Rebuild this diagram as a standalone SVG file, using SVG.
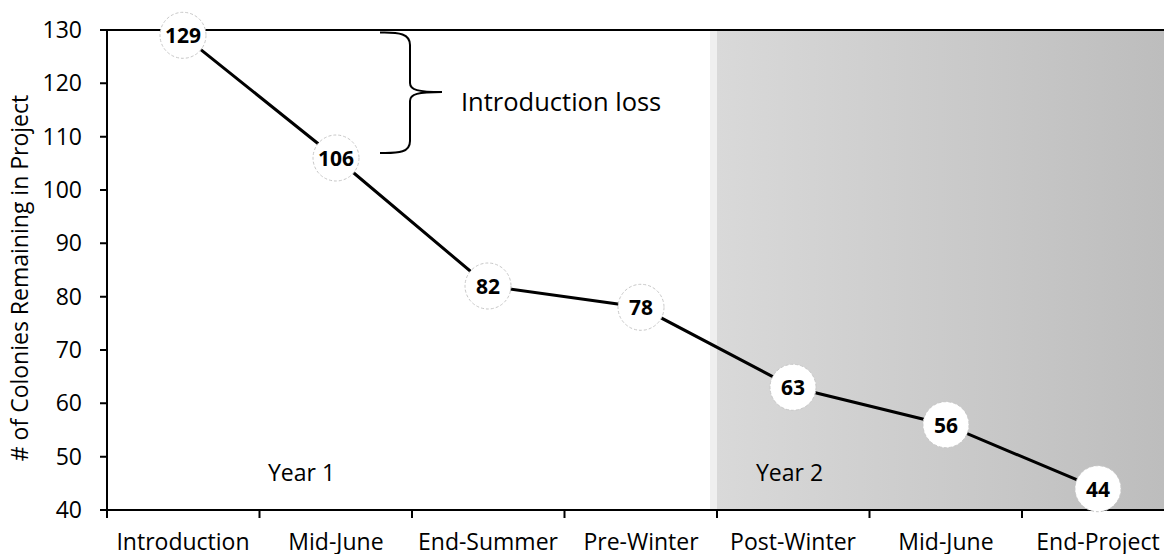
<svg xmlns="http://www.w3.org/2000/svg" width="1164" height="554" viewBox="0 0 1164 554">
<defs>
<linearGradient id="yr2" x1="0" y1="0" x2="1" y2="0">
<stop offset="0" stop-color="#d9d9d9"/>
<stop offset="1" stop-color="#bdbdbd"/>
</linearGradient>
<style>
.ax{stroke:#000;stroke-width:2;fill:none}
.tick{font-family:"Open Sans","Liberation Sans",sans-serif;font-size:23px;fill:#000}
.yl{text-anchor:end}
.xl{text-anchor:middle}
.dot{fill:#fff;stroke:#c8c8c8;stroke-width:1;stroke-dasharray:3 2}
.val{font-family:"Open Sans","Liberation Sans",sans-serif;font-size:21px;font-weight:bold;text-anchor:middle;fill:#000}
.seg{stroke:#000;stroke-width:3;fill:none}
</style>
</defs>
<rect width="1164" height="554" fill="#fff"/>
<!-- Year 2 background -->
<rect x="710" y="30" width="7" height="480" fill="#efefef"/>
<rect x="717" y="30" width="447" height="480" fill="url(#yr2)"/>
<!-- axes -->
<path class="ax" d="M100 30H1164M107 30V510M100 510H1164"/>
<path class="ax" d="M100 83.3H107M100 136.7H107M100 190H107M100 243.3H107M100 296.7H107M100 350H107M100 403.3H107M100 456.7H107"/>
<path class="ax" d="M107 510V518M259.5 510V518M412 510V518M564.5 510V518M717 510V518M869.5 510V518M1022 510V518"/>
<g class="tick yl">
<text x="82" y="38">130</text>
<text x="82" y="91.3">120</text>
<text x="82" y="144.7">110</text>
<text x="82" y="198">100</text>
<text x="82" y="251.3">90</text>
<text x="82" y="304.7">80</text>
<text x="82" y="358">70</text>
<text x="82" y="411.3">60</text>
<text x="82" y="464.7">50</text>
<text x="82" y="518">40</text>
</g>
<g class="tick xl">
<text x="183" y="550">Introduction</text>
<text x="336" y="550">Mid-June</text>
<text x="488" y="550">End-Summer</text>
<text x="641" y="550">Pre-Winter</text>
<text x="793" y="550">Post-Winter</text>
<text x="946" y="550">Mid-June</text>
<text x="1098" y="550">End-Project</text>
</g>
<text class="tick xl" transform="translate(28 278) rotate(-90)"># of Colonies Remaining in Project</text>
<text class="tick" x="268" y="481">Year 1</text>
<text class="tick" x="756" y="481">Year 2</text>
<!-- brace -->
<path class="ax" d="M380 32.5C400 32 410 34 410 45V83C410 90 418 92 442 92M380 153C400 153.5 410 152 410 141V101C410 94 418 92 442 92"/>
<text class="tick" x="461" y="111" style="font-size:25.5px">Introduction loss</text>
<g id="connectors">
<path class="seg" d="M183 35.3L336 158L488 286L641 307.3L793 387.3L946 424.7L1098 488.7"/>
</g>
<g id="n1"><circle class="dot" cx="183" cy="35.3" r="23"/><text class="val" x="183" y="43.3">129</text></g>
<g id="n2"><circle class="dot" cx="336" cy="158" r="23"/><text class="val" x="336" y="166">106</text></g>
<g id="n3"><circle class="dot" cx="488" cy="286" r="23"/><text class="val" x="488" y="294">82</text></g>
<g id="n4"><circle class="dot" cx="641" cy="307.3" r="23"/><text class="val" x="641" y="315.3">78</text></g>
<g id="n5"><circle class="dot" cx="793" cy="387.3" r="23"/><text class="val" x="793" y="395.3">63</text></g>
<g id="n6"><circle class="dot" cx="946" cy="424.7" r="23"/><text class="val" x="946" y="432.7">56</text></g>
<g id="n7"><circle class="dot" cx="1098" cy="488.7" r="23"/><text class="val" x="1098" y="496.7">44</text></g>
</svg>
